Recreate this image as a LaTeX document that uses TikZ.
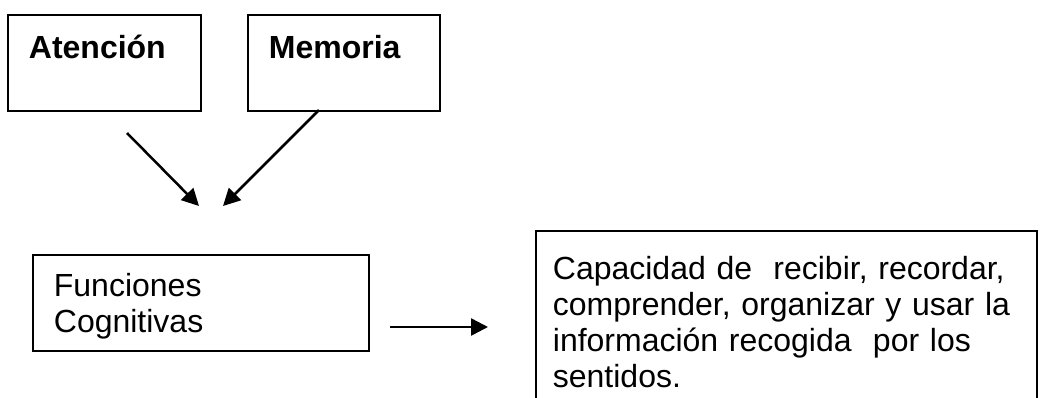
\documentclass[tikz,border=0pt]{standalone}
\usepackage{fontspec}
\setmainfont{Liberation Sans}
\usetikzlibrary{arrows.meta}
\begin{document}
\begin{tikzpicture}[x=1pt, y=-1pt]
    \tikzstyle{box_style}=[rectangle, draw, line width=1.8pt, anchor=north west, align=left, inner ysep=0pt, font=\fontsize{32}{35.7}\selectfont]
    \tikzstyle{arrow_style}=[line width=2.5pt, -{Triangle[length=17pt, width=17pt]}]

    \clip (0, 0) rectangle (1041, 397);

    % top boxes
    \draw node at (7, 14) [box_style, inner xsep=21pt, text width=151pt, text height=44pt, text depth=52pt] (atencion) {\textbf{Atención}};
    \draw node at (247, 14) [box_style, inner xsep=21pt, text width=150pt, text height=44pt, text depth=52pt] (memoria) {\textbf{Memoria}};

    % funciones
    \draw node at (32, 254) [box_style, inner xsep=21pt, text width=294pt, text height=42pt, text depth=54pt] (funciones) {Funciones\\Cognitivas};

    % capacidad
    \draw node at (535, 230) [box_style, inner xsep=17pt, text width=467pt, text height=49pt, text depth=145pt] (capacidad) {Capacidad de\ \ recibir, recordar,\\comprender, organizar y usar la\\información recogida\ \ por los\\sentidos.};

    % free ends
    \coordinate (atencion_tail) at (127, 133);
    \coordinate (atencion_head) at (199, 206);
    \coordinate (memoria_tail) at (319, 110);
    \coordinate (memoria_head) at (223, 206);
    \coordinate (funciones_tail) at (390, 327);
    \coordinate (funciones_head) at (488, 327);

    % connect
    \path[arrow_style] (atencion_tail) edge node[] {} (atencion_head);
    \path[arrow_style] (memoria_tail) edge node[] {} (memoria_head);
    \path[arrow_style] (funciones_tail) edge node[] {} (funciones_head);

\end{tikzpicture}
\end{document}
